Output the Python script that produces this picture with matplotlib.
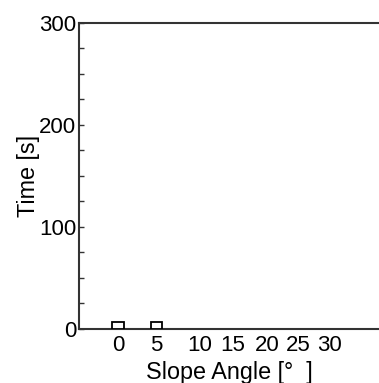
import matplotlib
matplotlib.use("Agg")
import matplotlib.pyplot as plt

plt.rcParams['font.family'] = ['Liberation Sans', 'DejaVu Sans']

# Measured durations per slope angle
angles = [0, 5]
times = [6.5, 6.5]

tick_labels = ["0", "5", "10", "15", "20", "25", "30"]
tick_pos = [0, 5, 10.6, 14.9, 19.4, 23.4, 27.5]

fig = plt.figure(figsize=(3.79, 3.83), dpi=100)
ax = fig.add_axes([0.2084, 0.141, 0.7916, 0.7997])

line_col = "#333333"
ax.bar(angles, times, width=1.5, facecolor="white", edgecolor="black", linewidth=1.3, zorder=3)

ax.set_xlim(-5.06, 33.9)
ax.set_ylim(0, 300)

ax.set_yticks([0, 100, 200, 300])
ax.set_yticks(range(0, 301, 25), minor=True)
ax.set_xticks(tick_pos)
ax.set_xticklabels(tick_labels)

ax.tick_params(axis='y', which='both', direction='in', length=3.5, width=1, color=line_col,
               labelsize=16, pad=2)
ax.tick_params(axis='x', which='both', length=0, labelsize=16, pad=4)

for s in ["left", "top", "bottom"]:
    ax.spines[s].set_color(line_col)
    ax.spines[s].set_linewidth(1.5)
ax.spines["right"].set_visible(False)

ax.set_ylabel("Time [s]", fontsize=16.8, labelpad=-0.5)
ax.set_xlabel("Slope Angle [°  ]", fontsize=16.8, labelpad=4)

fig.savefig("out.png", dpi=100)
